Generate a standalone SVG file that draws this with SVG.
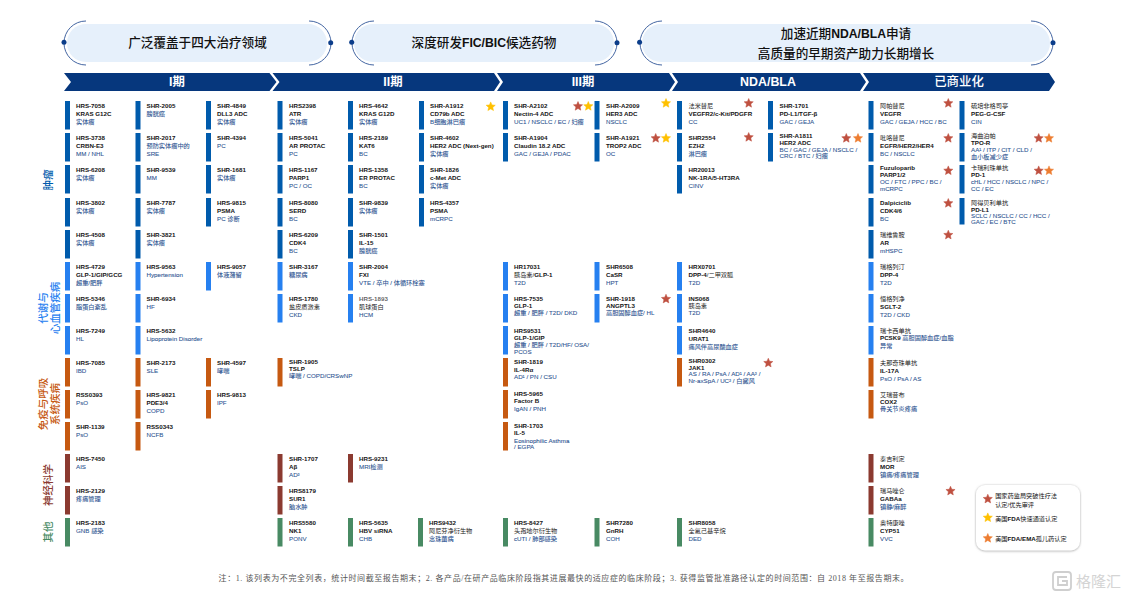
<svg xmlns="http://www.w3.org/2000/svg" width="1127" height="598" viewBox="0 0 1127 598">
<style>
text{font-family:"Liberation Sans","Noto Sans CJK SC",sans-serif}
.n{font-size:6.2px;fill:#151515;font-weight:700}
.c{font-size:6.2px;fill:#222;font-weight:400}
.c .n{font-weight:700}
.i{font-size:6.2px;fill:#2b5290;stroke:#2b5290;stroke-width:.08;font-weight:400}
.onc{fill:#005bac}.met{fill:#2680f0}.imm{fill:#c65911}.neu{fill:#8b3a30}.oth{fill:#488a63}
.bar{width:5px;height:28.5px}
.pf{fill:#e6f0fb}.pa{fill:none;stroke:#2f5597;stroke-width:.9}.pd{fill:#0b3d8a}
.pt{font-size:12.6px;fill:#111;text-anchor:middle;font-weight:500}
.pt tspan{font-weight:700;font-size:12.2px}
.cv{fill:#06377d}.ct{font-size:12.4px;fill:#fff;text-anchor:middle;font-weight:700}
.cat{font-size:10.5px;text-anchor:middle;font-weight:500}
.sr{fill:#bf5040;stroke:#bf5040}.sy{fill:#ffc000;stroke:#ffc000}.so{fill:#ed7d31;stroke:#ed7d31}
.lg{font-size:6.2px;fill:#151515}
.lg tspan{font-weight:700}
.ft{font-size:8px;fill:#555;font-family:"Liberation Serif","Noto Sans CJK SC",serif}
</style>
<defs>
<path id="s" stroke-width=".5" stroke-linejoin="round" d="M0-4.8 1.29-1.78 4.57-1.48 2.09.68 2.82 3.88 0 2.2-2.82 3.88-2.09.68-4.57-1.48-1.29-1.78Z"/>
<filter id="sh" x="-20%" y="-20%" width="140%" height="140%"><feDropShadow dx="0" dy="0.5" stdDeviation="1.3" flood-color="#888" flood-opacity=".8"/></filter>
</defs>
<rect width="1127" height="598" fill="#fff"/>

<g id="pill-1"><rect class="pf" x="67" y="24" width="260" height="38" rx="19"/><path class="pa" d="M86 21A22 22 0 0 0 86 65M309 21A22 22 0 0 1 309 65"/><circle class="pd" cx="64" cy="42.3" r="2.5"/><circle class="pd" cx="330.7" cy="42.8" r="2.5"/><text class="pt" x="197.5" y="47">广泛覆盖于四大治疗领域</text></g>
<g id="pill-2"><rect class="pf" x="354" y="24" width="260" height="38" rx="19"/><path class="pa" d="M374 21A22 22 0 0 0 374 65M595 21A22 22 0 0 1 595 65"/><circle class="pd" cx="351.7" cy="42.3" r="2.5"/><circle class="pd" cx="617" cy="42.8" r="2.5"/><text class="pt" x="484" y="47">深度研发<tspan>FIC/BIC</tspan>候选药物</text></g>
<g id="pill-3"><rect class="pf" x="642" y="24" width="408" height="38" rx="19"/><path class="pa" d="M662 21A22 22 0 0 0 662 65M1031 21A22 22 0 0 1 1031 65"/><circle class="pd" cx="639.6" cy="42.3" r="2.5"/><circle class="pd" cx="1053" cy="42.8" r="2.5"/><text class="pt" x="846" y="38">加速近期<tspan>NDA/BLA</tspan>申请</text><text class="pt" x="846" y="58">高质量的早期资产助力长期增长</text></g>

<g id="phase-1"><path class="cv" d="M64 73H269.5L276.5 82 269.5 91H64L71 82Z"/><text class="ct" x="177" y="86.3">I期</text></g>
<g id="phase-2"><path class="cv" d="M272.5 73H494L500 82 494 91H272.5L279.5 82Z"/><text class="ct" x="393" y="86.3">II期</text></g>
<g id="phase-3"><path class="cv" d="M497 73H669L675 82 669 91H497L503 82Z"/><text class="ct" x="583" y="86.3">III期</text></g>
<g id="phase-nda"><path class="cv" d="M672 73H860L866 82 860 91H672L678 82Z"/><text class="ct" x="768" y="86.3">NDA/BLA</text></g>
<g id="phase-market"><path class="cv" d="M863 73H1049L1055 82 1049 91H863L869 82Z"/><text class="ct" style="font-weight:500" x="959" y="86.3">已商业化</text></g>

<g id="cat-onc"><text class="cat onc" transform="translate(52 180) rotate(-90)">肿瘤</text></g>
<g id="cat-met"><text class="cat met" transform="translate(46.5 308) rotate(-90)">代谢与</text><text class="cat met" transform="translate(58.8 308) rotate(-90)">心血管疾病</text></g>
<g id="cat-imm"><text class="cat imm" transform="translate(46.5 404) rotate(-90)">免疫与呼吸</text><text class="cat imm" transform="translate(58.8 404) rotate(-90)">系统疾病</text></g>
<g id="cat-neu"><text class="cat neu" transform="translate(52 485) rotate(-90)">神经科学</text></g>
<g id="cat-oth"><text class="cat oth" transform="translate(52 532) rotate(-90)">其他</text></g>

<g id="connectors"/>

<g id="n01" transform="translate(65 101)"><rect class="bar onc"/><text class="n" x="11" y="7">HRS-7058</text><text class="n" x="11" y="15">KRAS G12C</text><text class="i" x="11" y="23">实体瘤</text></g>
<g id="n02" transform="translate(65 133)"><rect class="bar onc"/><text class="n" x="11" y="7">HRS-3738</text><text class="n" x="11" y="15">CRBN-E3</text><text class="i" x="11" y="23">MM / NHL</text></g>
<g id="n03" transform="translate(65 165)"><rect class="bar onc"/><text class="n" x="11" y="7">HRS-6208</text><text class="i" x="11" y="15">实体瘤</text></g>
<g id="n04" transform="translate(65 198)"><rect class="bar onc"/><text class="n" x="11" y="7">HRS-3802</text><text class="i" x="11" y="15">实体瘤</text></g>
<g id="n05" transform="translate(65 230)"><rect class="bar onc"/><text class="n" x="11" y="7">HRS-4508</text><text class="i" x="11" y="15">实体瘤</text></g>
<g id="n06" transform="translate(135.5 101)"><rect class="bar onc"/><text class="n" x="11" y="7">SHR-2005</text><text class="i" x="11" y="15">膀胱癌</text></g>
<g id="n07" transform="translate(135.5 133)"><rect class="bar onc"/><text class="n" x="11" y="7">SHR-2017</text><text class="i" x="11" y="15">预防实体瘤中的</text><text class="i" x="11" y="23">SRE</text></g>
<g id="n08" transform="translate(135.5 165)"><rect class="bar onc"/><text class="n" x="11" y="7">SHR-9539</text><text class="i" x="11" y="15">MM</text></g>
<g id="n09" transform="translate(135.5 198)"><rect class="bar onc"/><text class="n" x="11" y="7">SHR-7787</text><text class="i" x="11" y="15">实体瘤</text></g>
<g id="n10" transform="translate(135.5 230)"><rect class="bar onc"/><text class="n" x="11" y="7">SHR-3821</text><text class="i" x="11" y="15">实体瘤</text></g>
<g id="n11" transform="translate(206 101)"><rect class="bar onc"/><text class="n" x="11" y="7">SHR-4849</text><text class="n" x="11" y="15">DLL3 ADC</text><text class="i" x="11" y="23">实体瘤</text></g>
<g id="n12" transform="translate(206 133)"><rect class="bar onc"/><text class="n" x="11" y="7">SHR-4394</text><text class="i" x="11" y="15">PC</text></g>
<g id="n13" transform="translate(206 165)"><rect class="bar onc"/><text class="n" x="11" y="7">SHR-1681</text><text class="i" x="11" y="15">实体瘤</text></g>
<g id="n14" transform="translate(206 198)"><rect class="bar onc"/><text class="n" x="11" y="7">HRS-9815</text><text class="n" x="11" y="15">PSMA</text><text class="i" x="11" y="23">PC 诊断</text></g>

<g id="n15" transform="translate(277.5 101)"><rect class="bar onc"/><text class="n" x="11.5" y="7">HRS2398</text><text class="n" x="11.5" y="15">ATR</text><text class="i" x="11.5" y="23">实体瘤</text></g>
<g id="n16" transform="translate(277.5 133)"><rect class="bar onc"/><text class="n" x="11.5" y="7">HRS-5041</text><text class="n" x="11.5" y="15">AR PROTAC</text><text class="i" x="11.5" y="23">PC</text></g>
<g id="n17" transform="translate(277.5 165)"><rect class="bar onc"/><text class="n" x="11.5" y="7">HRS-1167</text><text class="n" x="11.5" y="15">PARP1</text><text class="i" x="11.5" y="23">PC / OC</text></g>
<g id="n18" transform="translate(277.5 198)"><rect class="bar onc"/><text class="n" x="11.5" y="7">HRS-8080</text><text class="n" x="11.5" y="15">SERD</text><text class="i" x="11.5" y="23">BC</text></g>
<g id="n19" transform="translate(277.5 230)"><rect class="bar onc"/><text class="n" x="11.5" y="7">HRS-6209</text><text class="n" x="11.5" y="15">CDK4</text><text class="i" x="11.5" y="23">BC</text></g>
<g id="n20" transform="translate(348 101)"><rect class="bar onc"/><text class="n" x="11" y="7">HRS-4642</text><text class="n" x="11" y="15">KRAS G12D</text><text class="i" x="11" y="23">实体瘤</text></g>
<g id="n21" transform="translate(348 133)"><rect class="bar onc"/><text class="n" x="11" y="7">HRS-2189</text><text class="n" x="11" y="15">KAT6</text><text class="i" x="11" y="23">BC</text></g>
<g id="n22" transform="translate(348 165)"><rect class="bar onc"/><text class="n" x="11" y="7">HRS-1358</text><text class="n" x="11" y="15">ER PROTAC</text><text class="i" x="11" y="23">BC</text></g>
<g id="n23" transform="translate(348 198)"><rect class="bar onc"/><text class="n" x="11" y="7">SHR-9839</text><text class="i" x="11" y="15">实体瘤</text></g>
<g id="n24" transform="translate(348 230)"><rect class="bar onc"/><text class="n" x="11" y="7">SHR-1501</text><text class="n" x="11" y="15">IL-15</text><text class="i" x="11" y="23">膀胱癌</text></g>
<g id="n25" transform="translate(419 101)"><rect class="bar onc"/><text class="n" x="11" y="7">SHR-A1912</text><text class="n" x="11" y="15">CD79b ADC</text><text class="i" x="11" y="23">B细胞淋巴瘤</text></g>
<g id="n26" transform="translate(419 133)"><rect class="bar onc"/><text class="n" x="11" y="7">SHR-4602</text><text class="n" x="11" y="15">HER2 ADC (Next-gen)</text><text class="i" x="11" y="23">实体瘤</text></g>
<g id="n27" transform="translate(419 165)"><rect class="bar onc"/><text class="n" x="11" y="7">SHR-1826</text><text class="n" x="11" y="15">c-Met ADC</text><text class="i" x="11" y="23">实体瘤</text></g>
<g id="n28" transform="translate(419 198)"><rect class="bar onc"/><text class="n" x="11" y="7">HRS-4357</text><text class="n" x="11" y="15">PSMA</text><text class="i" x="11" y="23">mCRPC</text></g>

<g id="n29" transform="translate(503 101)"><rect class="bar onc"/><text class="n" x="11" y="7">SHR-A2102</text><text class="n" x="11" y="15">Nectin-4 ADC</text><text class="i" x="11" y="23">UC1 / NSCLC / EC / 妇瘤</text></g>
<g id="n30" transform="translate(503 133)"><rect class="bar onc"/><text class="n" x="11" y="7">SHR-A1904</text><text class="n" x="11" y="15">Claudin 18.2 ADC</text><text class="i" x="11" y="23">GAC / GEJA / PDAC</text></g>
<g id="n31" transform="translate(594.5 101)"><rect class="bar onc"/><text class="n" x="11.5" y="7">SHR-A2009</text><text class="n" x="11.5" y="15">HER3 ADC</text><text class="i" x="11.5" y="23">NSCLC</text></g>
<g id="n32" transform="translate(594.5 133)"><rect class="bar onc"/><text class="n" x="11.5" y="7">SHR-A1921</text><text class="n" x="11.5" y="15">TROP2 ADC</text><text class="i" x="11.5" y="23">OC</text></g>

<g id="n33" transform="translate(677 101)"><rect class="bar onc"/><text class="c" x="11.5" y="7">法米替尼</text><text class="n" x="11.5" y="15">VEGFR2/c-Kit/PDGFR</text><text class="i" x="11.5" y="23">CC</text></g>
<g id="n34" transform="translate(677 133)"><rect class="bar onc"/><text class="n" x="11.5" y="7">SHR2554</text><text class="n" x="11.5" y="15">EZH2</text><text class="i" x="11.5" y="23">淋巴瘤</text></g>
<g id="n35" transform="translate(677 165)"><rect class="bar onc"/><text class="n" x="11.5" y="7">HR20013</text><text class="n" x="11.5" y="15">NK-1RA/5-HT3RA</text><text class="i" x="11.5" y="23">CINV</text></g>
<g id="n36" transform="translate(768 101)"><rect class="bar onc"/><text class="n" x="11.5" y="7">SHR-1701</text><text class="n" x="11.5" y="15">PD-L1/TGF-β</text><text class="i" x="11.5" y="23">GAC / GEJA</text></g>
<g id="n37" transform="translate(768 133)"><rect class="bar onc"/><text class="n" x="11.5" y="5">SHR-A1811</text><text class="n" x="11.5" y="12">HER2 ADC</text><text class="i" x="11.5" y="18.5">BC / GAC / GEJA / NSCLC /</text><text class="i" x="11.5" y="25">CRC / BTC / 妇瘤</text></g>

<g id="n38" transform="translate(868.5 101)"><rect class="bar onc"/><text class="c" x="11.5" y="7">阿帕替尼</text><text class="n" x="11.5" y="15">VEGFR</text><text class="i" x="11.5" y="23">GAC / GEJA / HCC / BC</text></g>
<g id="n39" transform="translate(868.5 133)"><rect class="bar onc"/><text class="c" x="11.5" y="7">吡咯替尼</text><text class="n" x="11.5" y="15">EGFR/HER2/HER4</text><text class="i" x="11.5" y="23">BC / NSCLC</text></g>
<g id="n40" transform="translate(868.5 165)"><rect class="bar onc"/><text class="n" x="11.5" y="5">Fuzuloparib</text><text class="n" x="11.5" y="12">PARP1/2</text><text class="i" x="11.5" y="19">OC / FTC / PPC / BC /</text><text class="i" x="11.5" y="25.5">mCRPC</text></g>
<g id="n41" transform="translate(868.5 198)"><rect class="bar onc"/><text class="n" x="11.5" y="7">Dalpiciclib</text><text class="n" x="11.5" y="15">CDK4/6</text><text class="i" x="11.5" y="23">BC</text></g>
<g id="n42" transform="translate(868.5 230)"><rect class="bar onc"/><text class="c" x="11.5" y="7">瑞维鲁胺</text><text class="n" x="11.5" y="15">AR</text><text class="i" x="11.5" y="23">mHSPC</text></g>
<g id="n43" transform="translate(959.5 101)"><rect class="bar onc"/><text class="c" x="11.5" y="7">硫培非格司亭</text><text class="n" x="11.5" y="15">PEG-G-CSF</text><text class="i" x="11.5" y="23">CIN</text></g>
<g id="n44" transform="translate(959.5 133)"><rect class="bar onc"/><text class="c" x="11.5" y="5">海曲泊帕</text><text class="n" x="11.5" y="12">TPO-R</text><text class="i" x="11.5" y="19">AA¹ / ITP / CIT / CLD /</text><text class="i" x="11.5" y="25.5">血小板减少症</text></g>
<g id="n45" transform="translate(959.5 165)"><rect class="bar onc"/><text class="c" x="11.5" y="5">卡瑞利珠单抗</text><text class="n" x="11.5" y="12">PD-1</text><text class="i" x="11.5" y="19">cHL / HCC / NSCLC / NPC /</text><text class="i" x="11.5" y="25.5">CC / EC</text></g>
<g id="n46" transform="translate(959.5 198)"><rect class="bar onc" style="height:26.5px"/><text class="c" x="11.5" y="7">阿得贝利单抗</text><text class="n" x="11.5" y="13.5">PD-L1</text><text class="i" x="11.5" y="20">SCLC / NSCLC / CC / HCC /</text><text class="i" x="11.5" y="26">GAC / EC / BTC</text></g>

<g id="n47" transform="translate(65 262)"><rect class="bar met"/><text class="n" x="11" y="7">HRS-4729</text><text class="n" x="11" y="15">GLP-1/GIP/GCG</text><text class="i" x="11" y="23">超重/肥胖</text></g>
<g id="n48" transform="translate(65 294)"><rect class="bar met"/><text class="n" x="11" y="7">HRS-5346</text><text class="i" x="11" y="14.5">脂蛋白紊乱</text></g>
<g id="n49" transform="translate(65 326)"><rect class="bar met"/><text class="n" x="11" y="7">HRS-7249</text><text class="i" x="11" y="15">HL</text></g>
<g id="n50" transform="translate(135.5 262)"><rect class="bar met"/><text class="n" x="11" y="7">HRS-9563</text><text class="i" x="11" y="15">Hypertension</text></g>
<g id="n51" transform="translate(135.5 294)"><rect class="bar met"/><text class="n" x="11" y="7">SHR-6934</text><text class="i" x="11" y="15">HF</text></g>
<g id="n52" transform="translate(135.5 326)"><rect class="bar met"/><text class="n" x="11" y="7">HRS-5632</text><text class="i" x="11" y="15">Lipoprotein Disorder</text></g>
<g id="n53" transform="translate(206 262)"><rect class="bar met"/><text class="n" x="11" y="7">HRS-9057</text><text class="i" x="11" y="15">体液潴留</text></g>
<g id="n54" transform="translate(277.5 262)"><rect class="bar met"/><text class="n" x="11.5" y="7">SHR-3167</text><text class="i" x="11.5" y="15">糖尿病</text></g>
<g id="n55" transform="translate(277.5 294)"><rect class="bar met"/><text class="n" x="11.5" y="7">HRS-1780</text><text class="c" x="11.5" y="15">盐皮质激素</text><text class="i" x="11.5" y="23">CKD</text></g>
<g id="n56" transform="translate(348 262)"><rect class="bar met"/><text class="n" x="11" y="7">SHR-2004</text><text class="n" x="11" y="15">FXI</text><text class="i" x="11" y="23">VTE / 卒中 / 体循环栓塞</text></g>
<g id="n57" transform="translate(348 294)"><rect class="bar met"/><text class="n" x="11" y="7" fill-opacity=".7">HRS-1893</text><text class="c" x="11" y="15">肌球蛋白</text><text class="i" x="11" y="23">HCM</text></g>
<g id="n58" transform="translate(503 262)"><rect class="bar met"/><text class="n" x="11" y="7">HR17031</text><text class="c" x="11" y="15">胰岛素/<tspan class="n">GLP-1</tspan></text><text class="i" x="11" y="23">T2D</text></g>
<g id="n59" transform="translate(503 294)"><rect class="bar met"/><text class="n" x="11" y="7">HRS-7535</text><text class="n" x="11" y="13.5">GLP-1</text><text class="i" x="11" y="20.5">超重 / 肥胖 / T2D/ DKD</text></g>
<g id="n60" transform="translate(503 326)"><rect class="bar met"/><text class="n" x="11" y="7">HRS9531</text><text class="n" x="11" y="13.5">GLP-1/GIP</text><text class="i" x="11" y="20.5">超重 / 肥胖 / T2D/HF/ OSA/</text><text class="i" x="11" y="27.5">PCOS</text></g>
<g id="n61" transform="translate(594.5 262)"><rect class="bar met"/><text class="n" x="11.5" y="7">SHR6508</text><text class="n" x="11.5" y="15">CaSR</text><text class="i" x="11.5" y="23">HPT</text></g>
<g id="n62" transform="translate(594.5 294)"><rect class="bar met"/><text class="n" x="11.5" y="7">SHR-1918</text><text class="n" x="11.5" y="13.5">ANGPTL3</text><text class="i" x="11.5" y="20.5">高胆固醇血症/ HL</text></g>
<g id="n63" transform="translate(677 262)"><rect class="bar met"/><text class="n" x="11.5" y="7">HRX0701</text><text class="c" x="11.5" y="15"><tspan class="n">DPP-4</tspan>/二甲双胍</text><text class="i" x="11.5" y="23">T2D</text></g>
<g id="n64" transform="translate(677 294)"><rect class="bar met"/><text class="n" x="11.5" y="7">INS068</text><text class="c" x="11.5" y="13.5">胰岛素</text><text class="i" x="11.5" y="20.5">T2D</text></g>
<g id="n65" transform="translate(677 326)"><rect class="bar met"/><text class="n" x="11.5" y="7">SHR4640</text><text class="n" x="11.5" y="15">URAT1</text><text class="i" x="11.5" y="23">痛风伴高尿酸血症</text></g>
<g id="n66" transform="translate(868.5 262)"><rect class="bar met"/><text class="c" x="11.5" y="7">瑞格列汀</text><text class="n" x="11.5" y="15">DPP-4</text><text class="i" x="11.5" y="23">T2D</text></g>
<g id="n67" transform="translate(868.5 294)"><rect class="bar met"/><text class="c" x="11.5" y="7">恒格列净</text><text class="n" x="11.5" y="15">SGLT-2</text><text class="i" x="11.5" y="23">T2D / CKD</text></g>
<g id="n68" transform="translate(868.5 326)"><rect class="bar met"/><text class="c" x="11.5" y="6.5">瑞卡西单抗</text><text class="n" x="11.5" y="14">PCSK9 <tspan class="i">高胆固醇血症/血脂</tspan></text><text class="i" x="11.5" y="21.5">异常</text></g>

<g id="n69" transform="translate(65 358)"><rect class="bar imm"/><text class="n" x="11" y="7">HRS-7085</text><text class="i" x="11" y="15">IBD</text></g>
<g id="n70" transform="translate(65 390)"><rect class="bar imm"/><text class="n" x="11" y="7">RSS0393</text><text class="i" x="11" y="15">PsO</text></g>
<g id="n71" transform="translate(65 422)"><rect class="bar imm"/><text class="n" x="11" y="7">SHR-1139</text><text class="i" x="11" y="15">PsO</text></g>
<g id="n72" transform="translate(135.5 358)"><rect class="bar imm"/><text class="n" x="11" y="7">SHR-2173</text><text class="i" x="11" y="15">SLE</text></g>
<g id="n73" transform="translate(135.5 390)"><rect class="bar imm"/><text class="n" x="11" y="7">HRS-9821</text><text class="n" x="11" y="15">PDE3/4</text><text class="i" x="11" y="23">COPD</text></g>
<g id="n74" transform="translate(135.5 422)"><rect class="bar imm"/><text class="n" x="11" y="7">RSS0343</text><text class="i" x="11" y="15">NCFB</text></g>
<g id="n75" transform="translate(206 358)"><rect class="bar imm"/><text class="n" x="11" y="7">SHR-4597</text><text class="i" x="11" y="15">哮喘</text></g>
<g id="n76" transform="translate(206 390)"><rect class="bar imm"/><text class="n" x="11" y="7">HRS-9813</text><text class="i" x="11" y="15">IPF</text></g>
<g id="n77" transform="translate(277.5 358)"><rect class="bar imm"/><text class="n" x="11.5" y="5.5">SHR-1905</text><text class="n" x="11.5" y="13">TSLP</text><text class="i" x="11.5" y="20">哮喘 / COPD/CRSwNP</text></g>
<g id="n78" transform="translate(503 358)"><rect class="bar imm"/><text class="n" x="11" y="6">SHR-1819</text><text class="n" x="11" y="13.5">IL-4Rα</text><text class="i" x="11" y="20.5">AD¹ / PN / CSU</text></g>
<g id="n79" transform="translate(503 390)"><rect class="bar imm"/><text class="n" x="11" y="6">HRS-5965</text><text class="n" x="11" y="13">Factor B</text><text class="i" x="11" y="20.5">IgAN / PNH</text></g>
<g id="n80" transform="translate(503 422)"><rect class="bar imm"/><text class="n" x="11" y="6">SHR-1703</text><text class="n" x="11" y="13">IL-5</text><text class="i" x="11" y="20.5">Eosinophilic Asthma</text><text class="i" x="11" y="27">/ EGPA</text></g>
<g id="n81" transform="translate(677 358)"><rect class="bar imm"/><text class="n" x="11.5" y="5">SHR0302</text><text class="n" x="11.5" y="11.5">JAK1</text><text class="i" x="11.5" y="18">AS / RA / PsA / AD¹ / AA² /</text><text class="i" x="11.5" y="24.5">Nr-axSpA / UC² / 白癜风</text></g>
<g id="n82" transform="translate(868.5 358)"><rect class="bar imm"/><text class="c" x="11.5" y="7">夫那奇珠单抗</text><text class="n" x="11.5" y="15">IL-17A</text><text class="i" x="11.5" y="23">PsO / PsA / AS</text></g>
<g id="n83" transform="translate(868.5 390)"><rect class="bar imm"/><text class="c" x="11.5" y="6.5">艾瑞昔布</text><text class="n" x="11.5" y="13.5">COX2</text><text class="i" x="11.5" y="20.5">骨关节炎疼痛</text></g>

<g id="n84" transform="translate(65 454)"><rect class="bar neu"/><text class="n" x="11" y="7">HRS-7450</text><text class="i" x="11" y="15">AIS</text></g>
<g id="n85" transform="translate(65 486)"><rect class="bar neu"/><text class="n" x="11" y="7">HRS-2129</text><text class="i" x="11" y="15">疼痛管理</text></g>
<g id="n86" transform="translate(277.5 454)"><rect class="bar neu"/><text class="n" x="11.5" y="7">SHR-1707</text><text class="n" x="11.5" y="15">Aβ</text><text class="i" x="11.5" y="23">AD²</text></g>
<g id="n87" transform="translate(277.5 486)"><rect class="bar neu"/><text class="n" x="11.5" y="7">HRS8179</text><text class="n" x="11.5" y="15">SUR1</text><text class="i" x="11.5" y="23">脑水肿</text></g>
<g id="n88" transform="translate(348 454)"><rect class="bar neu"/><text class="n" x="11" y="7">HRS-9231</text><text class="i" x="11" y="15">MRI检测</text></g>
<g id="n89" transform="translate(868.5 454)"><rect class="bar neu"/><text class="c" x="11.5" y="7">泰吉利定</text><text class="n" x="11.5" y="15">MOR</text><text class="i" x="11.5" y="23">镇痛/疼痛管理</text></g>
<g id="n90" transform="translate(868.5 486)"><rect class="bar neu"/><text class="c" x="11.5" y="7">瑞马唑仑</text><text class="n" x="11.5" y="15">GABAa</text><text class="i" x="11.5" y="23">镇静/麻醉</text></g>

<g id="n91" transform="translate(65 518)"><rect class="bar oth"/><text class="n" x="11" y="7">HRS-2183</text><text class="i" x="11" y="15">GNB 感染</text></g>
<g id="n92" transform="translate(277.5 518)"><rect class="bar oth"/><text class="n" x="11.5" y="7">HRS5580</text><text class="n" x="11.5" y="15">NK1</text><text class="i" x="11.5" y="23">PONV</text></g>
<g id="n93" transform="translate(348 518)"><rect class="bar oth"/><text class="n" x="11" y="7">HRS-5635</text><text class="n" x="11" y="15">HBV siRNA</text><text class="i" x="11" y="23">CHB</text></g>
<g id="n94" transform="translate(418 518)"><rect class="bar oth"/><text class="n" x="11" y="7">HRS9432</text><text class="c" x="11" y="15">阿尼芬净衍生物</text><text class="i" x="11" y="23">念珠菌病</text></g>
<g id="n95" transform="translate(503 518)"><rect class="bar oth"/><text class="n" x="11" y="7">HRS-8427</text><text class="c" x="11" y="15">头孢地尔衍生物</text><text class="i" x="11" y="23">cUTI / 肺部感染</text></g>
<g id="n96" transform="translate(594.5 518)"><rect class="bar oth"/><text class="n" x="11.5" y="7">SHR7280</text><text class="n" x="11.5" y="15">GnRH</text><text class="i" x="11.5" y="23">COH</text></g>
<g id="n97" transform="translate(677 518)"><rect class="bar oth"/><text class="n" x="11.5" y="7">SHR8058</text><text class="c" x="11.5" y="15">全氟己基辛烷</text><text class="i" x="11.5" y="23">DED</text></g>
<g id="n98" transform="translate(868.5 518)"><rect class="bar oth"/><text class="c" x="11.5" y="7">奥特康唑</text><text class="n" x="11.5" y="15">CYP51</text><text class="i" x="11.5" y="23">VVC</text></g>

<g id="badges">
<use href="#s" class="sy" x="490.7" y="106.7"/>
<use href="#s" class="sr" x="578" y="106.3"/><use href="#s" class="sy" x="588.3" y="106.3"/>
<use href="#s" class="sy" x="666" y="103.3"/>
<use href="#s" class="sr" x="655.7" y="138.3"/><use href="#s" class="sy" x="666" y="138.3"/>
<use href="#s" class="sr" x="748.7" y="103.3"/><use href="#s" class="sr" x="748.7" y="137.3"/>
<use href="#s" class="sr" x="846.3" y="138.3"/><use href="#s" class="so" x="858" y="138.3"/>
<use href="#s" class="sr" x="948.3" y="103.3"/><use href="#s" class="sr" x="948.3" y="138.3"/><use href="#s" class="sr" x="948.3" y="170.7"/><use href="#s" class="sr" x="948.3" y="203.3"/><use href="#s" class="sr" x="948.3" y="235"/>
<use href="#s" class="sr" x="1038.7" y="138.3"/><use href="#s" class="so" x="1049" y="138.3"/>
<use href="#s" class="sr" x="1038.7" y="170.7"/><use href="#s" class="so" x="1049" y="170.7"/>
<use href="#s" class="sr" x="666" y="299"/><use href="#s" class="sr" x="768.3" y="363"/>
<use href="#s" class="sr" x="950.5" y="491"/>
</g>

<g id="legend">
<rect x="976" y="485" width="104" height="65.5" rx="9" fill="#fff" filter="url(#sh)"/>
<use href="#s" class="sr" x="987.8" y="499"/><use href="#s" class="sy" x="987.8" y="517.7"/><use href="#s" class="so" x="987.8" y="538.3"/>
<text class="lg" x="995.2" y="497.5">国家药监局突破性疗法</text><text class="lg" x="995.2" y="506.5">认定/优先审评</text>
<text class="lg" x="995.2" y="520.8">美国<tspan>FDA</tspan>快速通道认定</text><text class="lg" x="995.2" y="541">美国<tspan>FDA/EMA</tspan>孤儿药认定</text>
</g>

<text id="footnote" class="ft" x="218.6" y="581" textLength="690" lengthAdjust="spacing">注：1. 该列表为不完全列表，统计时间截至报告期末；2. 各产品/在研产品临床阶段指其进展最快的适应症的临床阶段；3. 获得监管批准路径认定的时间范围：自 2018 年至报告期末。</text>

<g id="watermark" fill="none" stroke="#cfcfcf">
<rect x="1053" y="572" width="18" height="18" rx="3" stroke-width="1.8"/>
<path d="M1067 577H1058V585H1067V581H1062" stroke-width="1.8"/>
<text x="1076" y="586.5" font-size="15" fill="#d4d4d4" stroke="none">格隆汇</text>
</g>
</svg>
